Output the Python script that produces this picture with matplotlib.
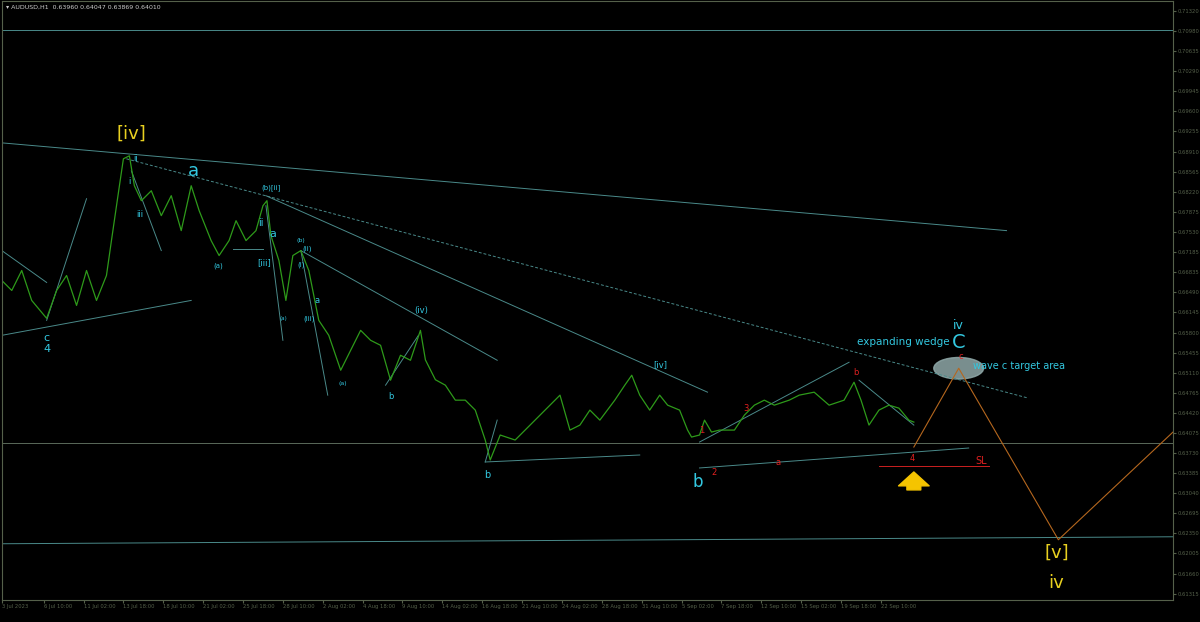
import numpy as np
import matplotlib
matplotlib.use("Agg")
import matplotlib.pyplot as plt
from matplotlib.patches import Ellipse

# price path (bar index, price)
bar_x = [0, 10, 20, 30, 45, 55, 65, 75, 85, 95, 105, 110, 118, 122, 128, 133, 140, 150,
         160, 170, 180, 190, 198, 210, 218, 228, 235, 245, 255, 262, 266, 270, 278, 285,
         292, 300, 308, 318, 328, 340, 350, 360, 370, 380, 390, 400, 410, 420, 425, 435,
         445, 455, 465, 475, 485, 490, 500, 515, 530, 545, 560, 570, 580, 590, 600, 615,
         625, 632, 640, 650, 660, 668, 680, 688, 692, 700, 705, 712, 720, 735, 745, 755,
         765, 775, 790, 800, 815, 830, 845, 855, 862, 870, 880, 890, 900, 910, 915]
price = [0.66695, 0.66523, 0.66866, 0.66352, 0.66044, 0.66523, 0.6678, 0.66266, 0.66866,
         0.66352, 0.6678, 0.6738, 0.68322, 0.68785, 0.68836, 0.68322, 0.68065, 0.68236,
         0.67808, 0.68151, 0.67551, 0.68322, 0.67894, 0.6738, 0.67123, 0.6738, 0.67722,
         0.6738, 0.67551, 0.67979, 0.68065, 0.67465, 0.67037, 0.66352, 0.67123, 0.67208,
         0.66866, 0.6601, 0.65753, 0.65153, 0.65496, 0.65838, 0.65667, 0.65581, 0.64982,
         0.6541, 0.65324, 0.65838, 0.6533, 0.6499, 0.64896, 0.64639, 0.64639, 0.64468,
         0.63954, 0.63611, 0.6404, 0.63954, 0.64211, 0.64468, 0.64725, 0.64125, 0.64211,
         0.64468, 0.64296, 0.64639, 0.64896, 0.65067, 0.64725, 0.64468, 0.64725, 0.64553,
         0.64468, 0.64125, 0.64005, 0.6404, 0.64296, 0.64091, 0.64125, 0.64125, 0.64382,
         0.64553, 0.64639, 0.64553, 0.64639, 0.64725, 0.64776, 0.64553, 0.64639, 0.64947,
         0.64639, 0.64211, 0.64468, 0.64553, 0.64502, 0.64296, 0.64262]

yticks = [0.71320, 0.70980, 0.70635, 0.70290, 0.69945, 0.69600, 0.69255, 0.68910,
          0.68565, 0.68220, 0.67875, 0.67530, 0.67185, 0.66835, 0.66490, 0.66145,
          0.65800, 0.65455, 0.65110, 0.64765, 0.64420, 0.64075, 0.63730, 0.63385,
          0.63040, 0.62695, 0.62350, 0.62005, 0.61660, 0.61315]
xtick_pos = [0, 42, 82, 122, 162, 202, 242, 282, 322, 362, 402, 442, 482, 522, 562,
             602, 642, 682, 722, 762, 802, 842, 882]
xtick_lab = ["3 Jul 2023", "6 Jul 10:00", "11 Jul 02:00", "13 Jul 18:00", "18 Jul 10:00",
             "21 Jul 02:00", "25 Jul 18:00", "28 Jul 10:00", "2 Aug 02:00", "4 Aug 18:00",
             "9 Aug 10:00", "14 Aug 02:00", "16 Aug 18:00", "21 Aug 10:00", "24 Aug 02:00",
             "28 Aug 18:00", "31 Aug 10:00", "5 Sep 02:00", "7 Sep 18:00", "12 Sep 10:00",
             "15 Sep 02:00", "19 Sep 18:00", "22 Sep 10:00"]


def Y(py):
    # pixel row -> price
    return 0.71491 - 0.0001713 * py


fig = plt.figure(figsize=(12, 6.22), dpi=100, facecolor="black")
ax = fig.add_axes([0.0015, 0.036, 0.976, 0.962], facecolor="black")
ax.set_xlim(0, 1175)
ax.set_ylim(Y(600), Y(0))
for s in ax.spines.values():
    s.set_color("#55604a")
ax.yaxis.tick_right()
ax.set_yticks(yticks)
ax.set_yticklabels([f"{v:.5f}" for v in yticks], fontsize=3.8, color="#aaaaaa")
ax.set_xticks(xtick_pos)
ax.set_xticklabels(xtick_lab, fontsize=3.8, color="#aaaaaa", ha="left")
ax.tick_params(colors="#55604a", length=2, pad=1.5)

teal = "#4a8a8a"
# horizontal levels
ax.axhline(0.7100, color=teal, lw=0.7)
ax.axhline(0.6390, color="#5a6a5a", lw=0.7)
ax.plot([0, 1175], [Y(544), Y(537)], color=teal, lw=0.7)

# trend lines
ax.plot([0, 1008], [Y(142), Y(230)], color=teal, lw=0.7)
ax.plot([125, 1030], [Y(158), Y(398)], color=teal, lw=0.7, ls=(0, (3, 2)))
ax.plot([265, 708], [Y(195), Y(392)], color=teal, lw=0.7)
ax.plot([300, 497], [Y(250), Y(360)], color=teal, lw=0.7)
ax.plot([418, 385], [Y(335), Y(385)], color=teal, lw=0.7)
ax.plot([0, 190], [Y(335), Y(300)], color=teal, lw=0.7)
ax.plot([0, 45], [Y(250), Y(282)], color=teal, lw=0.7)
ax.plot([45, 85], [Y(320), Y(198)], color=teal, lw=0.7)
ax.plot([130, 160], [Y(170), Y(250)], color=teal, lw=0.7)
ax.plot([265, 282], [Y(205), Y(340)], color=teal, lw=0.7)
ax.plot([300, 327], [Y(250), Y(395)], color=teal, lw=0.7)
ax.plot([485, 640], [Y(462), Y(455)], color=teal, lw=0.7)
ax.plot([485, 497], [Y(462), Y(420)], color=teal, lw=0.7)
ax.plot([700, 970], [Y(468), Y(448)], color=teal, lw=0.7)
ax.plot([700, 850], [Y(442), Y(362)], color=teal, lw=0.7)
ax.plot([860, 915], [Y(380), Y(425)], color=teal, lw=0.7)
ax.plot([232, 262], [Y(248), Y(248)], color=teal, lw=0.7)

# price
ax.plot(bar_x, price, color="#2e9a1a", lw=0.9)

# projection
ax.plot([915, 960, 1060, 1175], [Y(447), Y(368), Y(540), Y(432)], color="#b5671e", lw=0.8)
ax.plot([880, 990], [Y(466), Y(466)], color="#cc2020", lw=0.7)
ax.add_patch(Ellipse((960, Y(368)), 50, 0.0037, angle=0, color="#8fa8a8", alpha=0.85))
ax.annotate("", xy=(915, Y(472)), xytext=(915, Y(490)),
            arrowprops=dict(facecolor="#f5c400", edgecolor="#f5c400", width=10,
                            headwidth=22, headlength=10))

cy = "#33c8e0"
def lab(x, py, s, c=cy, fs=6):
    ax.text(x, Y(py), s, color=c, fontsize=fs, ha="center", va="center")

lab(130, 133, "[iv]", "#e8d020", 13)
lab(192, 170, "a", cy, 13)
lab(134, 158, "ii"); lab(128, 181, "i"); lab(138, 214, "iii")
lab(45, 338, "c", cy, 8); lab(45, 349, "4", cy, 8)
lab(217, 265, "(a)", fs=5); lab(270, 187, "(b)[ii]", fs=5)
lab(260, 222, "ii", fs=7); lab(272, 233, "a", fs=8); lab(263, 262, "[iii]", fs=6)
lab(300, 240, "(b)", fs=4.5); lab(306, 248, "(ii)", fs=5); lab(300, 264, "(i)", fs=5)
lab(282, 318, "(a)", fs=4); lab(316, 300, "a", fs=6); lab(308, 318, "(iii)", fs=5)
lab(342, 383, "(a)", fs=4.5); lab(390, 396, "b", fs=6); lab(421, 310, "(iv)", fs=6)
lab(487, 475, "b", fs=7); lab(661, 364, "[iv]", fs=6); lab(698, 482, "b", cy, 12)
rd = "#e02020"
lab(702, 430, "1", rd); lab(715, 473, "2", rd); lab(747, 408, "3", rd)
lab(779, 463, "a", rd); lab(857, 372, "b", rd); lab(913, 459, "4", rd)
lab(962, 356, "c", rd); lab(983, 461, "SL", rd, 7)
lab(960, 325, "iv", cy, 9); lab(960, 342, "C", cy, 14)
ax.text(951, Y(342), "expanding wedge", color=cy, fontsize=7.5, ha="right", va="center")
ax.text(974, Y(366), "wave c target area", color=cy, fontsize=7, va="center")
lab(1058, 553, "[v]", "#e8d020", 13); lab(1058, 583, "iv", "#e8d020", 13)

fig.text(0.005, 0.993, "\u25be AUDUSD,H1  0.63960 0.64047 0.63869 0.64010",
         color="#cccccc", fontsize=4.5, va="top")
fig.savefig("out.png", dpi=100, facecolor="black")
